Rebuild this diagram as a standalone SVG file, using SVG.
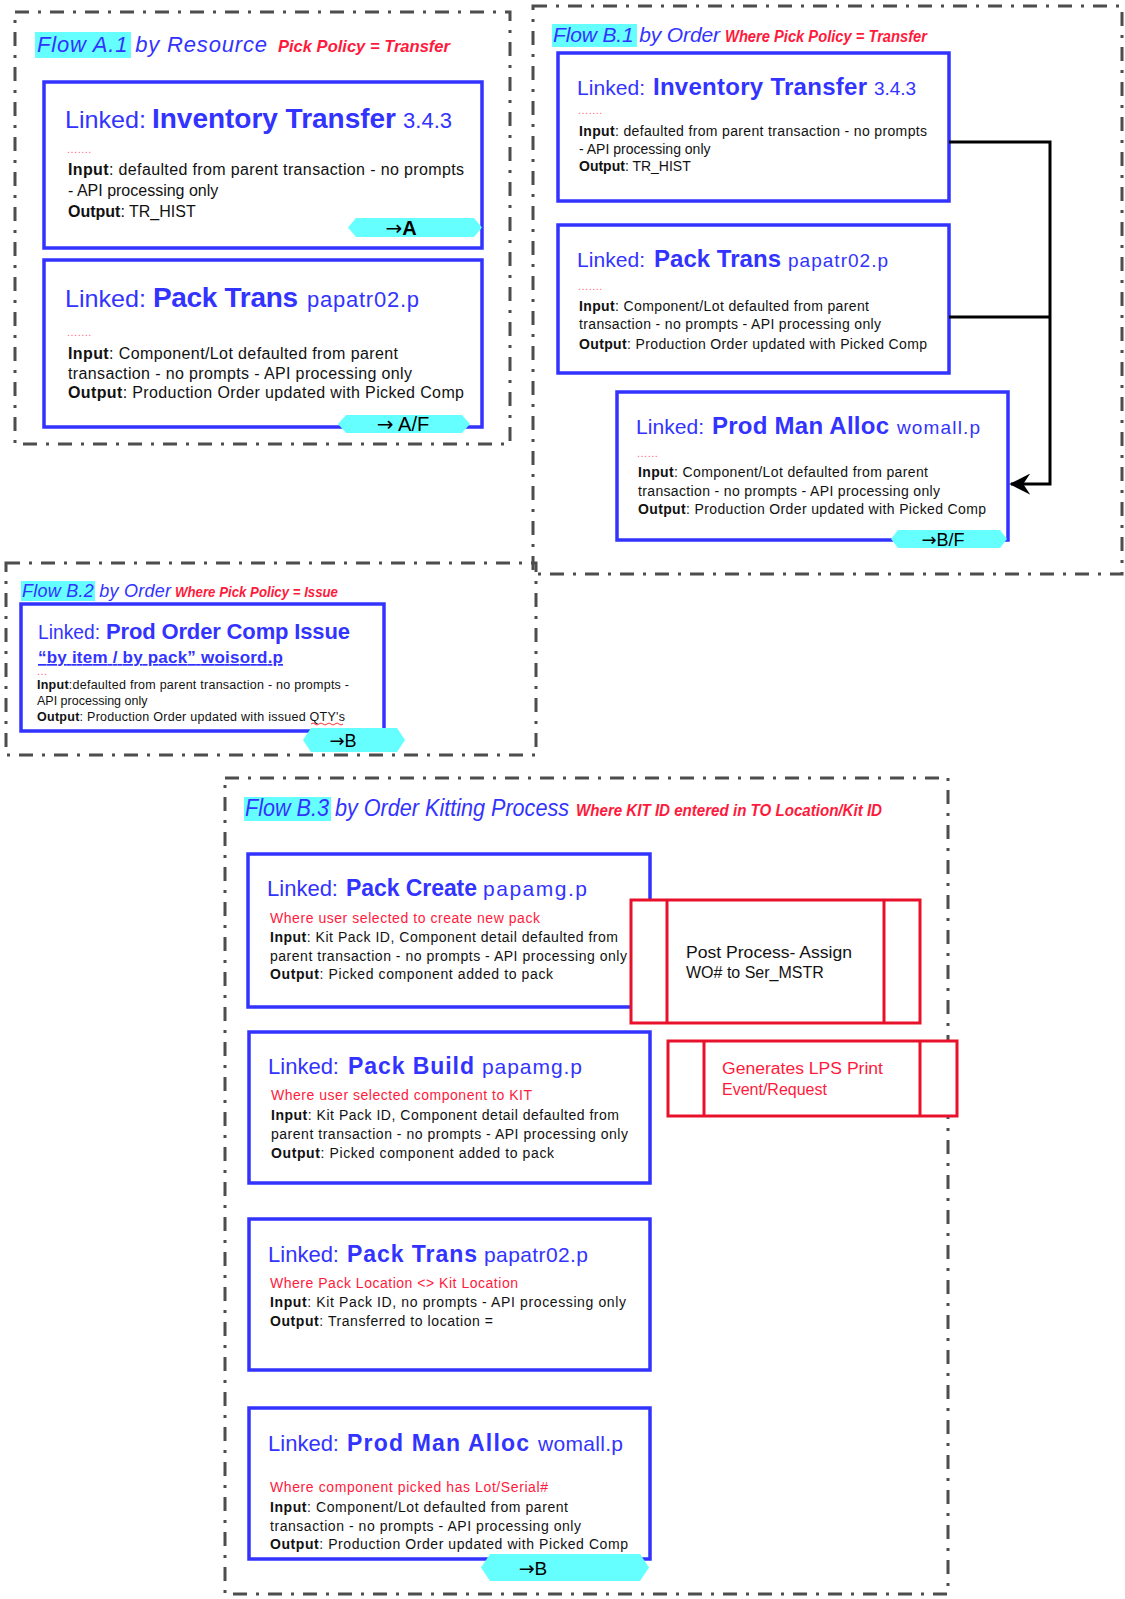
<svg xmlns="http://www.w3.org/2000/svg" width="1125" height="1599" viewBox="0 0 1125 1599">
<defs>
<style>
text{font-family:"Liberation Sans",Arial,sans-serif;}
.cont{fill:none;stroke:#4d4d4d;stroke-width:3;stroke-dasharray:14 9 3 9;}
.box{fill:#fff;stroke:#3333ff;stroke-width:3.5;}
.rbox{fill:#fff;stroke:#e8102a;stroke-width:3;}
.rl{stroke:#e8102a;stroke-width:3;}
.hl{fill:#66ffff;}
.tag{fill:#66ffff;}
.ft{fill:#3333ff;font-style:italic;}
.pol{fill:#ff1a3c;font-style:italic;font-weight:bold;}
.lk{fill:#3333ff;}
.nm{fill:#3333ff;font-weight:bold;}
.dots{fill:#ff6680;font-size:11px;letter-spacing:0.5px;}
.bd{fill:#111;}
.bd tspan.b{font-weight:bold;}
.red{fill:#ff1a3c;}
.tg{fill:#000;font-weight:bold;text-anchor:middle;}
.tgn{fill:#000;text-anchor:middle;}
.ar{font-family:"DejaVu Sans",sans-serif;font-weight:normal;}
.conn{fill:none;stroke:#000;stroke-width:3;}
</style>
<marker id="arr" viewBox="0 0 12 12" refX="11" refY="6" markerWidth="7" markerHeight="7" orient="auto" markerUnits="strokeWidth">
<path d="M0,0 L12,6 L0,12 L4,6 Z" fill="#000"/>
</marker>
</defs>
<rect width="1125" height="1599" fill="#fff"/>

<!-- Containers -->
<g id="flowA1">
<rect class="cont" x="15" y="12" width="495" height="432"/>
<rect class="hl" x="35" y="32" width="96" height="26"/>
<text class="ft" x="37" y="52" font-size="22" textLength="230">Flow A.1 by Resource</text>
<text class="pol" x="278" y="52" font-size="17" textLength="172" lengthAdjust="spacingAndGlyphs">Pick Policy = Transfer</text>
</g>
<g id="flowB1">
<rect class="cont" x="533" y="6" width="589" height="568"/>
<rect class="hl" x="552" y="24" width="85" height="23"/>
<text class="ft" x="553" y="42" font-size="21" textLength="167">Flow B.1 by Order</text>
<text class="pol" x="725" y="42" font-size="16" textLength="202" lengthAdjust="spacingAndGlyphs">Where Pick Policy = Transfer</text>
</g>
<g id="flowB2">
<rect class="cont" x="6" y="563" width="530" height="192"/>
<rect class="hl" x="21" y="581" width="74" height="20"/>
<text class="ft" x="22" y="597" font-size="18" textLength="149">Flow B.2 by Order</text>
<text class="pol" x="175" y="597" font-size="14" textLength="163" lengthAdjust="spacingAndGlyphs">Where Pick Policy = Issue</text>
</g>
<g id="flowB3">
<rect class="cont" x="225" y="778" width="723" height="816"/>
<rect class="hl" x="244" y="797" width="87" height="24"/>
<text class="ft" x="245" y="816" font-size="23" textLength="324" lengthAdjust="spacingAndGlyphs">Flow B.3 by Order Kitting Process</text>
<text class="pol" x="576" y="816" font-size="16" textLength="306" lengthAdjust="spacingAndGlyphs">Where KIT ID entered in TO Location/Kit ID</text>
</g>

<!-- A.1 nodes -->
<g id="a1-inv">
<rect class="box" x="44" y="82" width="438" height="166"/>
<text class="lk" x="65" y="128" font-size="24" textLength="81" lengthAdjust="spacingAndGlyphs">Linked:</text>
<text class="nm" x="152" y="128" font-size="28" textLength="244">Inventory Transfer</text>
<text class="lk" x="403" y="128" font-size="22" textLength="49">3.4.3</text>
<text class="dots" x="67" y="153">.......</text>
<text class="bd" x="68" y="175" font-size="16" textLength="396"><tspan class="b">Input</tspan>: defaulted from parent transaction - no prompts</text>
<text class="bd" x="68" y="196" font-size="16">- API processing only</text>
<text class="bd" x="68" y="217" font-size="16"><tspan class="b">Output</tspan>: TR_HIST</text>
<polygon class="tag" points="348,227.5 356,218 474,218 482,227.5 474,237 356,237"/>
<text class="tg" x="401" y="235" font-size="20"><tspan class="ar">→</tspan>A</text>
</g>
<g id="a1-pack">
<rect class="box" x="44" y="260" width="438" height="167"/>
<text class="lk" x="65" y="307" font-size="24" textLength="81" lengthAdjust="spacingAndGlyphs">Linked:</text>
<text class="nm" x="153" y="307" font-size="28" textLength="145">Pack Trans</text>
<text class="lk" x="307" y="307" font-size="22" textLength="112">papatr02.p</text>
<text class="dots" x="67" y="336">.......</text>
<text class="bd" x="68" y="359" font-size="16" textLength="330"><tspan class="b">Input</tspan>: Component/Lot defaulted from parent</text>
<text class="bd" x="68" y="379" font-size="16" textLength="344">transaction - no prompts - API processing only</text>
<text class="bd" x="68" y="398" font-size="16" textLength="396"><tspan class="b">Output</tspan>: Production Order updated with Picked Comp</text>
<polygon class="tag" points="338,424 346,415 462,415 470,424 462,433 346,433"/>
<text class="tgn" x="403" y="431" font-size="20"><tspan class="ar">→</tspan> A/F</text>
</g>

<!-- B.1 nodes -->
<g id="b1-inv">
<rect class="box" x="558" y="53" width="391" height="148"/>
<text class="lk" x="577" y="95" font-size="21" textLength="68" lengthAdjust="spacingAndGlyphs">Linked:</text>
<text class="nm" x="653" y="95" font-size="24" textLength="214">Inventory Transfer</text>
<text class="lk" x="874" y="95" font-size="19" textLength="42">3.4.3</text>
<text class="dots" x="578" y="114" font-size="10">.......</text>
<text class="bd" x="579" y="136" font-size="14" textLength="348"><tspan class="b">Input</tspan>: defaulted from parent transaction - no prompts</text>
<text class="bd" x="579" y="154" font-size="14">- API processing only</text>
<text class="bd" x="579" y="171" font-size="14"><tspan class="b">Output</tspan>: TR_HIST</text>
</g>
<g id="b1-pack">
<rect class="box" x="558" y="225" width="391" height="148"/>
<text class="lk" x="577" y="267" font-size="21" textLength="68" lengthAdjust="spacingAndGlyphs">Linked:</text>
<text class="nm" x="654" y="267" font-size="24" textLength="127">Pack Trans</text>
<text class="lk" x="788" y="267" font-size="19" textLength="100">papatr02.p</text>
<text class="dots" x="578" y="290" font-size="10">.......</text>
<text class="bd" x="579" y="311" font-size="14" textLength="290"><tspan class="b">Input</tspan>: Component/Lot defaulted from parent</text>
<text class="bd" x="579" y="329" font-size="14" textLength="302">transaction - no prompts - API processing only</text>
<text class="bd" x="579" y="349" font-size="14" textLength="348"><tspan class="b">Output</tspan>: Production Order updated with Picked Comp</text>
</g>
<g id="b1-alloc">
<rect class="box" x="617" y="392" width="391" height="148"/>
<text class="lk" x="636" y="434" font-size="21" textLength="68" lengthAdjust="spacingAndGlyphs">Linked:</text>
<text class="nm" x="712" y="434" font-size="24" textLength="177">Prod Man Alloc</text>
<text class="lk" x="897" y="434" font-size="19" textLength="83">womall.p</text>
<text class="dots" x="637" y="457" font-size="10">......</text>
<text class="bd" x="638" y="477" font-size="14" textLength="290"><tspan class="b">Input</tspan>: Component/Lot defaulted from parent</text>
<text class="bd" x="638" y="496" font-size="14" textLength="302">transaction - no prompts - API processing only</text>
<text class="bd" x="638" y="514" font-size="14" textLength="348"><tspan class="b">Output</tspan>: Production Order updated with Picked Comp</text>
<polygon class="tag" points="891,539 898,530 1000,530 1007,539 1000,548 898,548"/>
<text class="tgn" x="943" y="546" font-size="18"><tspan class="ar">→</tspan>B/F</text>
</g>

<!-- B.2 node -->
<g id="b2-issue">
<rect class="box" x="21" y="604" width="363" height="127"/>
<text class="lk" x="38" y="639" font-size="20" textLength="62" lengthAdjust="spacingAndGlyphs">Linked:</text>
<text class="nm" x="106" y="639" font-size="22" textLength="244">Prod Order Comp Issue</text>
<text class="nm" x="38" y="663" font-size="17" textLength="245" text-decoration="underline">“by item / by pack” woisord.p</text>
<text class="dots" x="37" y="675" font-size="7">...</text>
<text class="bd" x="37" y="689" font-size="12.5" textLength="312"><tspan class="b">Input</tspan>:defaulted from parent transaction - no prompts -</text>
<text class="bd" x="37" y="705" font-size="12.5">API processing only</text>
<text class="bd" x="37" y="721" font-size="12.5" textLength="308"><tspan class="b">Output</tspan>: Production Order updated with issued QTY's</text>
<path d="M311,724 q2,-2 4,0 t4,0 t4,0 t4,0 t4,0 t4,0 t4,0 t4,0" fill="none" stroke="#ff3333" stroke-width="1"/>
<polygon class="tag" points="303,740 311,728 397,728 405,740 397,752 311,752"/>
<text class="tgn" x="343" y="747" font-size="18"><tspan class="ar">→</tspan>B</text>
</g>

<!-- B.3 nodes -->
<g id="b3-create">
<rect class="box" x="248" y="854" width="402" height="153"/>
<text class="lk" x="267" y="896" font-size="22" textLength="71" lengthAdjust="spacingAndGlyphs">Linked:</text>
<text class="nm" x="346" y="896" font-size="23" textLength="131">Pack Create</text>
<text class="lk" x="483" y="896" font-size="21" textLength="104">papamg.p</text>
<text class="red" x="270" y="923" font-size="14" textLength="270">Where user selected to create new pack</text>
<text class="bd" x="270" y="942" font-size="14" textLength="348"><tspan class="b">Input</tspan>: Kit Pack ID, Component detail defaulted from</text>
<text class="bd" x="270" y="961" font-size="14" textLength="357">parent transaction - no prompts - API processing only</text>
<text class="bd" x="270" y="979" font-size="14" textLength="283"><tspan class="b">Output</tspan>: Picked component added to pack</text>
</g>
<g id="b3-post">
<rect class="rbox" x="631" y="900" width="289" height="123"/>
<line class="rl" x1="667" y1="900" x2="667" y2="1023"/>
<line class="rl" x1="884" y1="900" x2="884" y2="1023"/>
<text class="bd" x="686" y="958" font-size="16" textLength="166" lengthAdjust="spacingAndGlyphs">Post Process- Assign</text>
<text class="bd" x="686" y="978" font-size="16">WO# to Ser_MSTR</text>
</g>
<g id="b3-lps">
<rect class="rbox" x="668" y="1041" width="289" height="75"/>
<line class="rl" x1="704" y1="1041" x2="704" y2="1116"/>
<line class="rl" x1="920" y1="1041" x2="920" y2="1116"/>
<text class="red" x="722" y="1074" font-size="16" textLength="161" lengthAdjust="spacingAndGlyphs">Generates LPS Print</text>
<text class="red" x="722" y="1095" font-size="16">Event/Request</text>
</g>
<g id="b3-build">
<rect class="box" x="249" y="1032" width="401" height="151"/>
<text class="lk" x="268" y="1074" font-size="22" textLength="71" lengthAdjust="spacingAndGlyphs">Linked:</text>
<text class="nm" x="348" y="1074" font-size="23" textLength="126">Pack Build</text>
<text class="lk" x="482" y="1074" font-size="21" textLength="100">papamg.p</text>
<text class="red" x="271" y="1100" font-size="14" textLength="261">Where user selected component to KIT</text>
<text class="bd" x="271" y="1120" font-size="14" textLength="348"><tspan class="b">Input</tspan>: Kit Pack ID, Component detail defaulted from</text>
<text class="bd" x="271" y="1139" font-size="14" textLength="357">parent transaction - no prompts - API processing only</text>
<text class="bd" x="271" y="1158" font-size="14" textLength="283"><tspan class="b">Output</tspan>: Picked component added to pack</text>
</g>
<g id="b3-trans">
<rect class="box" x="249" y="1219" width="401" height="151"/>
<text class="lk" x="268" y="1262" font-size="22" textLength="71" lengthAdjust="spacingAndGlyphs">Linked:</text>
<text class="nm" x="347" y="1262" font-size="23" textLength="130">Pack Trans</text>
<text class="lk" x="484" y="1262" font-size="21" textLength="104">papatr02.p</text>
<text class="red" x="270" y="1288" font-size="14" textLength="248">Where Pack Location &lt;&gt; Kit Location</text>
<text class="bd" x="270" y="1307" font-size="14" textLength="356"><tspan class="b">Input</tspan>: Kit Pack ID,  no prompts - API processing only</text>
<text class="bd" x="270" y="1326" font-size="14" textLength="223"><tspan class="b">Output</tspan>: Transferred to location =</text>
</g>
<g id="b3-alloc">
<rect class="box" x="249" y="1408" width="401" height="151"/>
<text class="lk" x="268" y="1451" font-size="22" textLength="71" lengthAdjust="spacingAndGlyphs">Linked:</text>
<text class="nm" x="347" y="1451" font-size="23" textLength="182">Prod Man Alloc</text>
<text class="lk" x="538" y="1451" font-size="21" textLength="85">womall.p</text>
<text class="red" x="270" y="1492" font-size="14" textLength="278">Where component picked has Lot/Serial#</text>
<text class="bd" x="270" y="1512" font-size="14" textLength="298"><tspan class="b">Input</tspan>: Component/Lot defaulted from parent</text>
<text class="bd" x="270" y="1531" font-size="14" textLength="311">transaction - no prompts - API processing only</text>
<text class="bd" x="270" y="1549" font-size="14" textLength="358"><tspan class="b">Output</tspan>: Production Order updated with Picked Comp</text>
<polygon class="tag" points="481,1567.5 490,1554 640,1554 649,1567.5 640,1581 490,1581"/>
<text class="tgn" x="533" y="1575" font-size="19"><tspan class="ar">→</tspan>B</text>
</g>

<!-- Connectors -->
<g id="connectors">
<polyline class="conn" points="949,142 1050,142 1050,484 1011,484" marker-end="url(#arr)"/>
<line class="conn" x1="949" y1="317" x2="1050" y2="317"/>
</g>
</svg>
